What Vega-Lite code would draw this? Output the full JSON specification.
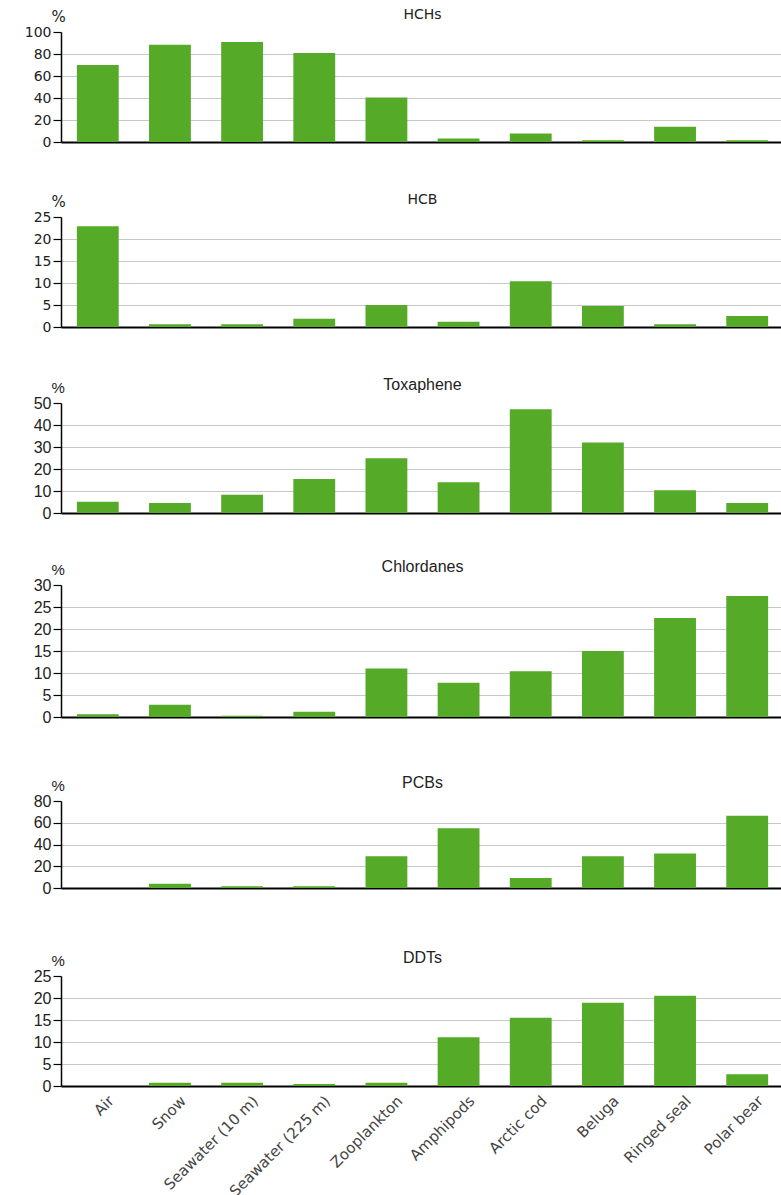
{
  "$schema": "https://vega.github.io/schema/vega-lite/v6.json",
  "padding": {"left": 24, "top": 8, "right": 0, "bottom": 0},
  "background": "white",
  "spacing": 10,
  "config": {
    "view": {"stroke": null},
    "bar": {"color": "#55ab27"},
    "title": {"fontWeight": "normal", "color": "#222222", "anchor": "middle", "offset": -13},
    "axisY": {"domainColor": "#000000", "domainWidth": 1.5, "tickColor": "#000000", "tickSize": 8, "tickWidth": 1.2, "gridColor": "#c8c8c8", "gridWidth": 1.2, "labelColor": "#222222", "labelPadding": 2, "titleAngle": 0, "titleAlign": "left", "titleBaseline": "bottom", "titleX": -10, "titleY": -8, "titleFontWeight": "normal", "titleColor": "#222222", "titleFontSize": 15},
    "axisX": {"domainColor": "#000000", "domainWidth": 1.8, "labelColor": "#444444", "ticks": true, "tickBand": "extent", "tickColor": "#000000", "tickWidth": 1.5, "tickSize": 7, "tickOpacity": {"condition": {"test": "datum.value === 'Air'", "value": 1}, "value": 0}}
  },
  "datasets": {
    "pop": [
      {"substance": "HCHs", "medium": "Air", "value": 70},
      {"substance": "HCHs", "medium": "Snow", "value": 88.5},
      {"substance": "HCHs", "medium": "Seawater (10 m)", "value": 90.8},
      {"substance": "HCHs", "medium": "Seawater (225 m)", "value": 80.8},
      {"substance": "HCHs", "medium": "Zooplankton", "value": 40.5},
      {"substance": "HCHs", "medium": "Amphipods", "value": 3.2},
      {"substance": "HCHs", "medium": "Arctic cod", "value": 7.8},
      {"substance": "HCHs", "medium": "Beluga", "value": 1.5},
      {"substance": "HCHs", "medium": "Ringed seal", "value": 13.9},
      {"substance": "HCHs", "medium": "Polar bear", "value": 1.5},
      {"substance": "HCB", "medium": "Air", "value": 22.9},
      {"substance": "HCB", "medium": "Snow", "value": 0.6},
      {"substance": "HCB", "medium": "Seawater (10 m)", "value": 0.6},
      {"substance": "HCB", "medium": "Seawater (225 m)", "value": 1.9},
      {"substance": "HCB", "medium": "Zooplankton", "value": 5.0},
      {"substance": "HCB", "medium": "Amphipods", "value": 1.2},
      {"substance": "HCB", "medium": "Arctic cod", "value": 10.4},
      {"substance": "HCB", "medium": "Beluga", "value": 4.8},
      {"substance": "HCB", "medium": "Ringed seal", "value": 0.6},
      {"substance": "HCB", "medium": "Polar bear", "value": 2.5},
      {"substance": "Toxaphene", "medium": "Air", "value": 5.1},
      {"substance": "Toxaphene", "medium": "Snow", "value": 4.5},
      {"substance": "Toxaphene", "medium": "Seawater (10 m)", "value": 8.3},
      {"substance": "Toxaphene", "medium": "Seawater (225 m)", "value": 15.4},
      {"substance": "Toxaphene", "medium": "Zooplankton", "value": 24.9},
      {"substance": "Toxaphene", "medium": "Amphipods", "value": 14.0},
      {"substance": "Toxaphene", "medium": "Arctic cod", "value": 47.2},
      {"substance": "Toxaphene", "medium": "Beluga", "value": 32.0},
      {"substance": "Toxaphene", "medium": "Ringed seal", "value": 10.3},
      {"substance": "Toxaphene", "medium": "Polar bear", "value": 4.5},
      {"substance": "Chlordanes", "medium": "Air", "value": 0.6},
      {"substance": "Chlordanes", "medium": "Snow", "value": 2.8},
      {"substance": "Chlordanes", "medium": "Seawater (10 m)", "value": 0.3},
      {"substance": "Chlordanes", "medium": "Seawater (225 m)", "value": 1.2},
      {"substance": "Chlordanes", "medium": "Zooplankton", "value": 11.0},
      {"substance": "Chlordanes", "medium": "Amphipods", "value": 7.8},
      {"substance": "Chlordanes", "medium": "Arctic cod", "value": 10.4},
      {"substance": "Chlordanes", "medium": "Beluga", "value": 15.0},
      {"substance": "Chlordanes", "medium": "Ringed seal", "value": 22.5},
      {"substance": "Chlordanes", "medium": "Polar bear", "value": 27.5},
      {"substance": "PCBs", "medium": "Air", "value": 0},
      {"substance": "PCBs", "medium": "Snow", "value": 4.0},
      {"substance": "PCBs", "medium": "Seawater (10 m)", "value": 1.5},
      {"substance": "PCBs", "medium": "Seawater (225 m)", "value": 1.5},
      {"substance": "PCBs", "medium": "Zooplankton", "value": 29.3},
      {"substance": "PCBs", "medium": "Amphipods", "value": 55.0},
      {"substance": "PCBs", "medium": "Arctic cod", "value": 9.3},
      {"substance": "PCBs", "medium": "Beluga", "value": 29.3},
      {"substance": "PCBs", "medium": "Ringed seal", "value": 31.8},
      {"substance": "PCBs", "medium": "Polar bear", "value": 66.4},
      {"substance": "DDTs", "medium": "Air", "value": 0},
      {"substance": "DDTs", "medium": "Snow", "value": 0.76},
      {"substance": "DDTs", "medium": "Seawater (10 m)", "value": 0.76},
      {"substance": "DDTs", "medium": "Seawater (225 m)", "value": 0.45},
      {"substance": "DDTs", "medium": "Zooplankton", "value": 0.76},
      {"substance": "DDTs", "medium": "Amphipods", "value": 11.1},
      {"substance": "DDTs", "medium": "Arctic cod", "value": 15.5},
      {"substance": "DDTs", "medium": "Beluga", "value": 18.9},
      {"substance": "DDTs", "medium": "Ringed seal", "value": 20.5},
      {"substance": "DDTs", "medium": "Polar bear", "value": 2.65}
    ]
  },
  "vconcat": [
    {
      "width": 723, "height": 110,
      "data": {"name": "pop"},
      "title": {"text": "HCHs", "font": "DejaVu Sans", "fontSize": 14},
      "transform": [{"filter": "datum.substance === 'HCHs'"}],
      "mark": "bar",
      "encoding": {
        "x": {"field": "medium", "type": "nominal", "sort": ["Air", "Snow", "Seawater (10 m)", "Seawater (225 m)", "Zooplankton", "Amphipods", "Arctic cod", "Beluga", "Ringed seal", "Polar bear"], "scale": {"paddingInner": 0.42, "paddingOuter": 0.22}, "axis": {"labels": false, "title": null, "minExtent": 41}},
        "y": {"field": "value", "type": "quantitative", "scale": {"domain": [0, 100], "nice": false}, "axis": {"values": [0, 20, 40, 60, 80, 100], "title": "%", "labelFont": "DejaVu Sans", "labelFontSize": 14, "titleFont": "DejaVu Sans", "gridOpacity": {"condition": {"test": "datum.value >= 100", "value": 0}, "value": 1}}}
      }
    },
    {
      "width": 723, "height": 110,
      "data": {"name": "pop"},
      "title": {"text": "HCB", "font": "DejaVu Sans", "fontSize": 14},
      "transform": [{"filter": "datum.substance === 'HCB'"}],
      "mark": "bar",
      "encoding": {
        "x": {"field": "medium", "type": "nominal", "sort": ["Air", "Snow", "Seawater (10 m)", "Seawater (225 m)", "Zooplankton", "Amphipods", "Arctic cod", "Beluga", "Ringed seal", "Polar bear"], "scale": {"paddingInner": 0.42, "paddingOuter": 0.22}, "axis": {"labels": false, "title": null, "minExtent": 40}},
        "y": {"field": "value", "type": "quantitative", "scale": {"domain": [0, 25], "nice": false}, "axis": {"values": [0, 5, 10, 15, 20, 25], "title": "%", "labelFont": "DejaVu Sans", "labelFontSize": 14, "titleFont": "DejaVu Sans", "gridOpacity": {"condition": {"test": "datum.value >= 25", "value": 0}, "value": 1}}}
      }
    },
    {
      "width": 723, "height": 110,
      "data": {"name": "pop"},
      "title": {"text": "Toxaphene", "font": "Liberation Sans, sans-serif", "fontSize": 16},
      "transform": [{"filter": "datum.substance === 'Toxaphene'"}],
      "mark": "bar",
      "encoding": {
        "x": {"field": "medium", "type": "nominal", "sort": ["Air", "Snow", "Seawater (10 m)", "Seawater (225 m)", "Zooplankton", "Amphipods", "Arctic cod", "Beluga", "Ringed seal", "Polar bear"], "scale": {"paddingInner": 0.42, "paddingOuter": 0.22}, "axis": {"labels": false, "title": null, "minExtent": 36}},
        "y": {"field": "value", "type": "quantitative", "scale": {"domain": [0, 50], "nice": false}, "axis": {"values": [0, 10, 20, 30, 40, 50], "title": "%", "labelFont": "Liberation Sans, sans-serif", "labelFontSize": 16, "titleFont": "Liberation Sans, sans-serif", "gridOpacity": {"condition": {"test": "datum.value >= 50", "value": 0}, "value": 1}}}
      }
    },
    {
      "width": 723, "height": 132,
      "data": {"name": "pop"},
      "title": {"text": "Chlordanes", "font": "Liberation Sans, sans-serif", "fontSize": 16},
      "transform": [{"filter": "datum.substance === 'Chlordanes'"}],
      "mark": "bar",
      "encoding": {
        "x": {"field": "medium", "type": "nominal", "sort": ["Air", "Snow", "Seawater (10 m)", "Seawater (225 m)", "Zooplankton", "Amphipods", "Arctic cod", "Beluga", "Ringed seal", "Polar bear"], "scale": {"paddingInner": 0.42, "paddingOuter": 0.22}, "axis": {"labels": false, "title": null, "minExtent": 48}},
        "y": {"field": "value", "type": "quantitative", "scale": {"domain": [0, 30], "nice": false}, "axis": {"values": [0, 5, 10, 15, 20, 25, 30], "title": "%", "labelFont": "Liberation Sans, sans-serif", "labelFontSize": 16, "titleFont": "Liberation Sans, sans-serif", "gridOpacity": {"condition": {"test": "datum.value >= 30", "value": 0}, "value": 1}}}
      }
    },
    {
      "width": 723, "height": 87,
      "data": {"name": "pop"},
      "title": {"text": "PCBs", "font": "Liberation Sans, sans-serif", "fontSize": 16},
      "transform": [{"filter": "datum.substance === 'PCBs'"}],
      "mark": "bar",
      "encoding": {
        "x": {"field": "medium", "type": "nominal", "sort": ["Air", "Snow", "Seawater (10 m)", "Seawater (225 m)", "Zooplankton", "Amphipods", "Arctic cod", "Beluga", "Ringed seal", "Polar bear"], "scale": {"paddingInner": 0.42, "paddingOuter": 0.22}, "axis": {"labels": false, "title": null, "minExtent": 52}},
        "y": {"field": "value", "type": "quantitative", "scale": {"domain": [0, 80], "nice": false}, "axis": {"values": [0, 20, 40, 60, 80], "title": "%", "labelFont": "Liberation Sans, sans-serif", "labelFontSize": 16, "titleFont": "Liberation Sans, sans-serif", "gridOpacity": {"condition": {"test": "datum.value >= 80", "value": 0}, "value": 1}}}
      }
    },
    {
      "width": 723, "height": 110,
      "data": {"name": "pop"},
      "title": {"text": "DDTs", "font": "Liberation Sans, sans-serif", "fontSize": 16},
      "transform": [{"filter": "datum.substance === 'DDTs'"}],
      "mark": "bar",
      "encoding": {
        "x": {"field": "medium", "type": "nominal", "sort": ["Air", "Snow", "Seawater (10 m)", "Seawater (225 m)", "Zooplankton", "Amphipods", "Arctic cod", "Beluga", "Ringed seal", "Polar bear"], "scale": {"paddingInner": 0.42, "paddingOuter": 0.22}, "axis": {"title": null, "labelAngle": -45, "labelFont": "DejaVu Sans", "labelFontSize": 15, "labelPadding": 0, "labelOffset": 8}},
        "y": {"field": "value", "type": "quantitative", "scale": {"domain": [0, 25], "nice": false}, "axis": {"values": [0, 5, 10, 15, 20, 25], "title": "%", "labelFont": "Liberation Sans, sans-serif", "labelFontSize": 16, "titleFont": "Liberation Sans, sans-serif", "gridOpacity": {"condition": {"test": "datum.value >= 25", "value": 0}, "value": 1}}}
      }
    }
  ]
}
